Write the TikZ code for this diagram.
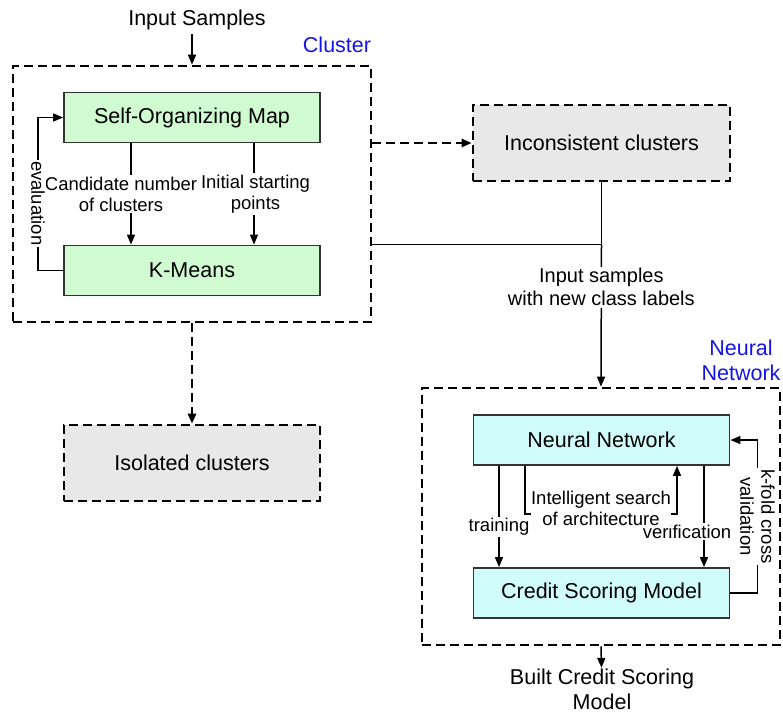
\documentclass[tikz,border=0pt]{standalone}
\usepackage{fontspec}
\setmainfont{Liberation Sans}
\usepackage{tikz}
\usetikzlibrary{arrows.meta, calc}

\definecolor{somgreen}{RGB}{208,250,208}
\definecolor{nncyan}{RGB}{208,252,252}
\definecolor{boxgray}{RGB}{232,232,232}
\definecolor{tagblue}{RGB}{20,20,230}

\tikzset{
  bigtext/.style={font=\fontsize{21.5}{25}\selectfont},
  midtext/.style={font=\fontsize{20}{23}\selectfont},
  smalltext/.style={font=\fontsize{18.5}{21}\selectfont},
  procbox/.style={draw=black!80, line width=1.8pt, minimum width=256pt, minimum height=50pt, bigtext},
  groupbox/.style={draw, line width=2.6pt, dash pattern=on 9pt off 5pt},
  dasharrow/.style={->, line width=2.4pt, dash pattern=on 9pt off 5pt},
  tag/.style={fill=white, inner sep=1.5pt, align=center, smalltext}
}

\begin{document}
\begin{tikzpicture} [x=1pt, y=-1pt, line width=1.5pt, align=center, >={Triangle[length=10pt,width=8pt]}]

\useasboundingbox (0,0) rectangle (783,716);

% cluster part
\node[groupbox, minimum width=358pt, minimum height=256pt] 	(cluster) 	at (192,194)	{};
\node[procbox, fill=somgreen]	(som)		at (192,117.5)	{Self-Organizing Map};
\node[procbox, fill=somgreen]	(kmeans)	at (192,270.5)	{K-Means};
\node[bigtext]			(input)		at (197,20)	{Input Samples};
\node[bigtext, text=tagblue]	(clustertag)	at (337,45)	{Cluster};

\node[groupbox, fill=boxgray, minimum width=257pt, minimum height=76pt, bigtext]	(incons)	at (601.5,143)	{Inconsistent clusters};
\node[groupbox, fill=boxgray, minimum width=256pt, minimum height=76pt, bigtext]	(isolated)	at (192,463)	{Isolated clusters};

% neural network part
\node[groupbox, minimum width=358pt, minimum height=257pt]	(nnbox)		at (601,516.5)	{};
\node[procbox, fill=nncyan]	(nn)		at (601.5,440)	{Neural Network};
\node[procbox, fill=nncyan]	(csm)		at (601.5,593)	{Credit Scoring Model};
\node[bigtext, text=tagblue]	(nntag)		at (741,360)	{Neural\\Network};
\node[bigtext, inner sep=0pt]	(built)		at (602,689)	{Built Credit Scoring\\Model};

\coordinate (join) at (incons.south |- kmeans.north);

\draw[->] (cluster.north |- input.south) -- (cluster.north);
\draw[->] ([xshift=-61pt]som.south) -- ([xshift=-61pt]kmeans.north)
	node[tag, midway, xshift=-10pt] {Candidate number\\of clusters};
\draw[->] ([xshift=62pt]som.south) -- ([xshift=62pt]kmeans.north)
	node[tag, midway, xshift=1.5pt] {Initial starting\\points};
\draw[->] (kmeans.west) -- ++(-25,0) |- (som.west)
	node[tag, pos=0.22, rotate=-90] {evaluation};

\draw[dasharrow] (cluster.east |- incons.west) -- (incons.west);
\draw[dasharrow] (cluster.south) -- (isolated.north);

\draw (incons.south) -- (join);
\draw (cluster.east |- join) -- (join);
\draw[->] (join) -- (nnbox.north)
	node[tag, midtext, pos=0.3] {Input samples\\with new class labels};

\draw[->] ([xshift=-102.5pt]nn.south) -- ([xshift=-102.5pt]csm.north)
	node[tag, pos=0.6] {training};
\draw[->] ([xshift=102.5pt]nn.south) -- ([xshift=102.5pt]csm.north)
	node[tag, pos=0.65, xshift=-17pt] {verification};
\draw[->] ([xshift=-76.5pt]nn.south) -- ++(0,48) -| ([xshift=75.5pt]nn.south)
	node[tag, pos=0.25, yshift=6pt, inner sep=0.5pt] {Intelligent search\\of architecture};
\draw[->] (csm.east) -- ++(27,0) |- (nn.east)
	node[tag, pos=0.25, rotate=-90] {k-fold cross\\validation};

\draw[->] (nnbox.south) -- (built);

\end{tikzpicture}
\end{document}
